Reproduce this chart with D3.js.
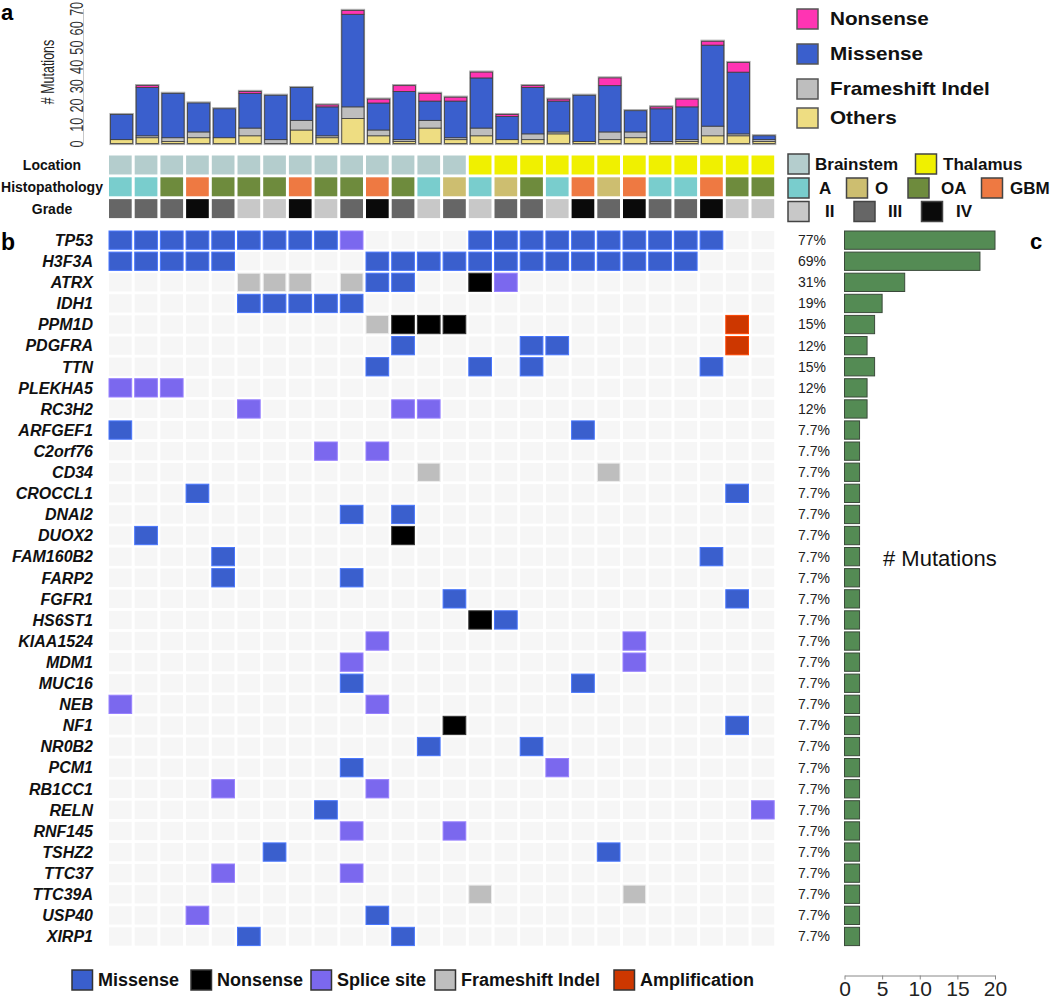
<!DOCTYPE html>
<html>
<head>
<meta charset="utf-8">
<script src="https://cdn.jsdelivr.net/npm/d3@7"></script>
<style>
  body { margin: 0; background: #fff; }
  svg { font-family: Arial, "Liberation Sans", sans-serif; }
</style>
</head>
<body>
<svg id="chart" width="1050" height="1001"></svg>
<script>
// samples 1..26
var samples = d3.range(1, 27).map(function (d) { return "S" + d; });

// stacked counts per sample (top panel a)
var others     = [2, 3, 1, 3, 3, 4, 0, 7, 3, 13, 4, 1, 8, 2, 4, 2, 2, 5, 1, 2, 3, 0, 1, 4, 4, 1];
var frameshift = [0, 1, 2, 3, 0, 4, 2, 5, 1, 6, 3, 1, 4, 1, 4, 0, 3, 1, 0, 4, 3, 1, 1, 5, 1, 1];
var missense   = [13, 25, 23, 15, 15, 18, 23, 17, 15, 48, 14, 25, 10, 19, 26, 12, 24, 16, 24, 24, 11, 17, 17, 42, 32, 2];
var nonsense   = [0, 1, 0, 0, 0, 1, 0, 0, 1, 2, 2, 3, 4, 2, 3, 1, 1, 1, 0, 4, 0, 1, 4, 2, 5, 0];
var barKeys    = ["Others", "Frameshift Indel", "Missense", "Nonsense"];
var yTicks     = [0, 10, 20, 30, 40, 50, 60, 70];

// clinical annotation rows
var sampleLocation = ["Brainstem","Brainstem","Brainstem","Brainstem","Brainstem","Brainstem","Brainstem",
  "Brainstem","Brainstem","Brainstem","Brainstem","Brainstem","Brainstem","Brainstem",
  "Thalamus","Thalamus","Thalamus","Thalamus","Thalamus","Thalamus","Thalamus","Thalamus",
  "Thalamus","Thalamus","Thalamus","Thalamus"];
var histology = ["A","A","OA","GBM","OA","OA","OA","GBM","OA","OA","GBM","OA","A","O",
  "A","O","OA","A","GBM","O","GBM","A","A","GBM","OA","OA"];
var grade = ["III","III","III","IV","III","II","II","IV","II","III","IV","III","II","III",
  "II","III","III","II","IV","III","IV","III","III","IV","II","II"];

// genes, alterations as "column+type" (M missense, N nonsense, S splice, F frameshift, A amplification)
var genes = ["TP53","H3F3A","ATRX","IDH1","PPM1D","PDGFRA","TTN","PLEKHA5","RC3H2","ARFGEF1",
  "C2orf76","CD34","CROCCL1","DNAI2","DUOX2","FAM160B2","FARP2","FGFR1","HS6ST1","KIAA1524",
  "MDM1","MUC16","NEB","NF1","NR0B2","PCM1","RB1CC1","RELN","RNF145","TSHZ2","TTC37",
  "TTC39A","USP40","XIRP1"];
var alterations = [
  "1M 2M 3M 4M 5M 6M 7M 8M 9M 10S 15M 16M 17M 18M 19M 20M 21M 22M 23M 24M",
  "1M 2M 3M 4M 5M 11M 12M 13M 14M 15M 16M 17M 18M 19M 20M 21M 22M 23M",
  "6F 7F 8F 10F 11M 12M 15N 16S",
  "6M 7M 8M 9M 10M",
  "11F 12N 13N 14N 25A",
  "12M 17M 18M 25A",
  "11M 15M 17M 24M",
  "1S 2S 3S",
  "6S 12S 13S",
  "1M 19M",
  "9S 11S",
  "13F 20F",
  "4M 25M",
  "10M 12M",
  "2M 12N",
  "5M 24M",
  "5M 10M",
  "14M 25M",
  "15N 16M",
  "11S 21S",
  "10S 21S",
  "10M 19M",
  "1S 11S",
  "14N 25M",
  "13M 17M",
  "10M 18S",
  "5S 11S",
  "9M 26S",
  "10S 14S",
  "7M 20M",
  "5S 10S",
  "15F 21F",
  "4S 11M",
  "6M 12M"
];
var geneCounts = [20, 18, 8, 5, 4, 3, 4, 3, 3, 2, 2, 2, 2, 2, 2, 2, 2, 2, 2, 2, 2, 2, 2, 2, 2, 2, 2, 2, 2, 2, 2, 2, 2, 2];
var genePct = ["77%","69%","31%","19%","15%","12%","15%","12%","12%","7.7%","7.7%","7.7%","7.7%",
  "7.7%","7.7%","7.7%","7.7%","7.7%","7.7%","7.7%","7.7%","7.7%","7.7%","7.7%","7.7%","7.7%",
  "7.7%","7.7%","7.7%","7.7%","7.7%","7.7%","7.7%","7.7%"];
var countTicks = [0, 5, 10, 15, 20];

var barColor = d3.scaleOrdinal().domain(barKeys)
  .range(["#eedd82", "#bebebe", "#3a5fcd", "#ff34b3"]);
var mutColor = { M: "#3a5fcd", N: "#000000", S: "#7b68ee", F: "#bebebe", A: "#cd3700" };
var mutLegend = [["M", "Missense"], ["N", "Nonsense"], ["S", "Splice site"], ["F", "Frameshift Indel"], ["A", "Amplification"]];
var annColor = {
  Brainstem: "#b4cdcd", Thalamus: "#f0f000",
  A: "#79cdcd", O: "#cdbe70", OA: "#6e8b3d", GBM: "#ee7942",
  II: "#c8c8c8", III: "#666666", IV: "#0a0a0a"
};

var svg = d3.select("#chart");

var x = d3.scaleBand().domain(samples).range([109, 774.2]).paddingInner(0.117).paddingOuter(0);

// ---- panel a: stacked bars
var yBar = d3.scaleLinear().domain([0, 70]).range([143.5, 8.5]);
var rows = samples.map(function (s, i) {
  return { s: s, "Others": others[i], "Frameshift Indel": frameshift[i], "Missense": missense[i], "Nonsense": nonsense[i] };
});
var totals = rows.map(function (r) { return r.Others + r["Frameshift Indel"] + r.Missense + r.Nonsense; });
var stacked = d3.stack().keys(barKeys)(rows);

var gBar = svg.append("g");
// soft grey halo round each bar
gBar.selectAll("rect.total").data(rows).enter().append("rect")
  .attr("x", function (d) { return x(d.s) + 1.5; })
  .attr("y", function (d, i) { return yBar(totals[i]) - 0.5; })
  .attr("width", x.bandwidth() - 0.5)
  .attr("height", function (d, i) { return yBar(0) - yBar(totals[i]) + 1; })
  .attr("fill", "none").attr("stroke", "#a8a8a8").attr("stroke-width", 2.2);
gBar.selectAll("g.layer").data(stacked).enter().append("g")
  .attr("fill", function (d) { return barColor(d.key); })
  .selectAll("rect").data(function (d) { return d; }).enter()
  .filter(function (d) { return d[1] > d[0]; })
  .append("rect")
  .attr("x", function (d) { return x(d.data.s) + 1.5; })
  .attr("y", function (d) { return yBar(d[1]); })
  .attr("width", x.bandwidth() - 0.5)
  .attr("height", function (d) { return yBar(d[0]) - yBar(d[1]); })
  .attr("stroke", "#3c3c3c").attr("stroke-width", 0.8);

// the original panel is stretched sideways, so the rotated texts are squashed along their length
var yAxis = svg.append("g").attr("transform", "translate(83,0)")
  .call(d3.axisLeft(yBar).tickValues(yTicks).tickSize(0).tickPadding(0).tickSizeOuter(0));
yAxis.select(".domain").attr("stroke", "#c8c8c8");
yAxis.selectAll(".tick text")
  .attr("font-size", 16).attr("fill", "#333").attr("font-family", "Arial, 'Liberation Sans', sans-serif")
  .attr("text-anchor", "middle")
  .attr("x", 0).attr("y", 0).attr("dy", "0")
  .attr("transform", "translate(-0.5,0) rotate(-90) scale(0.8,1.2)");
svg.append("text").attr("transform", "translate(54,72) rotate(-90) scale(0.78,1.2)")
  .attr("text-anchor", "middle").attr("font-size", 16).attr("fill", "#222").text("# Mutations");

svg.append("text").attr("x", 1).attr("y", 20).attr("font-size", 22).attr("font-weight", "bold").text("a");
svg.append("text").attr("x", 1).attr("y", 250).attr("font-size", 23).attr("font-weight", "bold").text("b");
svg.append("text").attr("x", 1030).attr("y", 249).attr("font-size", 22).attr("font-weight", "bold").text("c");

// top right legend
var legBar = svg.append("g").selectAll("g").data(barKeys.slice().reverse()).enter().append("g")
  .attr("transform", function (d, i) { return "translate(797," + [9, 44, 79, 108][i] + ")"; });
legBar.append("rect").attr("width", 21).attr("height", 20)
  .attr("fill", function (d) { return barColor(d); }).attr("stroke", "#555").attr("stroke-width", 1.5);
legBar.append("text").attr("transform", "translate(33,10) scale(1.15,1)").attr("dy", "0.35em")
  .attr("font-size", 18).attr("font-weight", "bold").attr("fill", "#111").text(function (d) { return d; });

// ---- annotation rows
var annRows = [["Location", sampleLocation], ["Histopathology", histology], ["Grade", grade]];
var yAnn = d3.scaleBand().domain(annRows.map(function (d) { return d[0]; }))
  .range([155.5, 218.1]).paddingInner(0.13);
var gAnn = svg.append("g").selectAll("g").data(annRows).enter().append("g");
gAnn.append("text").attr("x", 52).attr("y", function (d) { return yAnn(d[0]) + yAnn.bandwidth() / 2; })
  .attr("dy", "0.35em").attr("text-anchor", "middle").attr("font-size", 14).attr("font-weight", "bold")
  .attr("fill", "#111").text(function (d) { return d[0]; });
gAnn.each(function (r) {
  d3.select(this).selectAll("rect").data(r[1]).enter().append("rect")
    .attr("x", function (d, i) { return x(samples[i]); })
    .attr("y", yAnn(r[0]))
    .attr("width", x.bandwidth()).attr("height", yAnn.bandwidth())
    .attr("fill", function (d) { return annColor[d]; });
});

// annotation legend
var annLegend = [
  ["Brainstem", 788, 154, 815], ["Thalamus", 915.5, 154, 943],
  ["A", 788, 178, 819], ["O", 846.5, 178, 875], ["OA", 908, 178, 941], ["GBM", 981.5, 178, 1010],
  ["II", 788, 201.5, 825], ["III", 854, 201.5, 888], ["IV", 921.5, 201.5, 956]
];
var gAL = svg.append("g").selectAll("g").data(annLegend).enter().append("g");
gAL.append("rect").attr("x", function (d) { return d[1]; }).attr("y", function (d) { return d[2]; })
  .attr("width", 21).attr("height", 20)
  .attr("fill", function (d) { return annColor[d[0]]; }).attr("stroke", "#444").attr("stroke-width", 1.5);
gAL.append("text").attr("x", function (d) { return d[3]; }).attr("y", function (d) { return d[2] + 10; })
  .attr("dy", "0.35em").attr("font-size", 17).attr("font-weight", "bold").attr("fill", "#111")
  .text(function (d) { return d[0]; });

// ---- panel b: mutation matrix
var yGene = d3.scaleBand().domain(genes).range([231, 945.6]).paddingInner(0.133);
var cells = [];
genes.forEach(function (g, gi) {
  var hits = {};
  alterations[gi].split(" ").forEach(function (t) {
    hits[+t.slice(0, -1)] = t.slice(-1);
  });
  samples.forEach(function (s, si) {
    cells.push({ gene: g, sample: s, type: hits[si + 1] || null });
  });
});
svg.append("g").selectAll("rect").data(cells).enter().append("rect")
  .attr("x", function (d) { return x(d.sample); })
  .attr("y", function (d) { return yGene(d.gene); })
  .attr("width", x.bandwidth()).attr("height", yGene.bandwidth())
  .attr("fill", function (d) { return d.type ? mutColor[d.type] : "#f6f6f6"; })
  .attr("stroke", function (d) {
    if (!d.type) return "none";
    return d.type === "N" ? "#333" : d3.color(mutColor[d.type]).brighter(0.6);
  })
  .attr("stroke-width", 1);

svg.append("g").selectAll("text").data(genes).enter().append("text")
  .attr("x", 93).attr("y", function (d) { return yGene(d) + yGene.bandwidth() / 2; })
  .attr("dy", "0.36em").attr("text-anchor", "end")
  .attr("font-size", 16).attr("font-weight", "bold").attr("font-style", "italic").attr("fill", "#111")
  .text(function (d) { return d; });

// bottom legend
var botX = [72, 191, 311, 435, 614];
var gML = svg.append("g").selectAll("g").data(mutLegend).enter().append("g")
  .attr("transform", function (d, i) { return "translate(" + botX[i] + ",970)"; });
gML.append("rect").attr("width", 20.5).attr("height", 20)
  .attr("fill", function (d) { return mutColor[d[0]]; }).attr("stroke", "#333").attr("stroke-width", 1.5);
gML.append("text").attr("x", 26).attr("y", 10).attr("dy", "0.36em")
  .attr("font-size", 18).attr("font-weight", "bold").attr("fill", "#111")
  .text(function (d) { return d[1]; });

// ---- panel c: counts per gene
var xCount = d3.scaleLinear().domain([0, 20]).range([844.5, 995]);
svg.append("g").selectAll("text").data(genes).enter().append("text")
  .attr("x", 798).attr("y", function (d) { return yGene(d) + yGene.bandwidth() / 2; })
  .attr("dy", "0.35em").attr("font-size", 14).attr("fill", "#222")
  .text(function (d, i) { return genePct[i]; });
svg.append("g").selectAll("rect").data(genes).enter().append("rect")
  .attr("x", xCount(0))
  .attr("y", function (d) { return yGene(d); })
  .attr("width", function (d, i) { return xCount(geneCounts[i]) - xCount(0); })
  .attr("height", yGene.bandwidth())
  .attr("fill", "#548b54").attr("stroke", "#3a4a3a").attr("stroke-width", 1);

var xAxis = svg.append("g").attr("transform", "translate(0,975.5)")
  .call(d3.axisBottom(xCount).tickValues(countTicks).tickSize(4).tickPadding(1.5).tickSizeOuter(0));
xAxis.select(".domain").attr("stroke", "#888");
xAxis.selectAll(".tick line").attr("stroke", "#888");
xAxis.selectAll("text").attr("font-size", 21).attr("fill", "#222")
  .attr("font-family", "Arial, 'Liberation Sans', sans-serif");

svg.append("text").attr("x", 883).attr("y", 558).attr("dy", "0.35em")
  .attr("font-size", 22).attr("fill", "#111").text("# Mutations");
</script>
</body>
</html>
